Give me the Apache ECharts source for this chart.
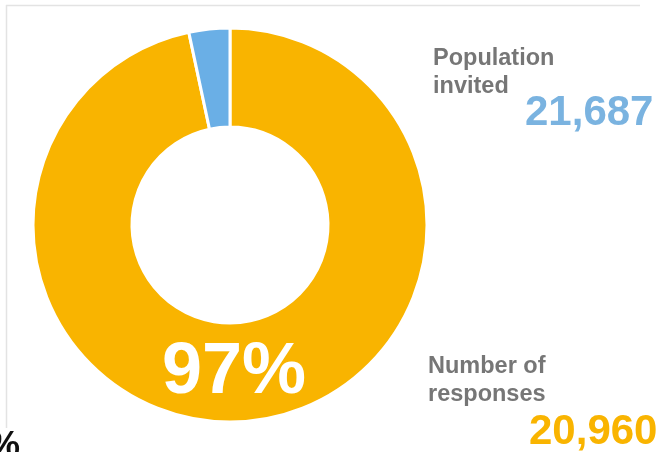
<!DOCTYPE html>
<html><head><meta charset="utf-8">
<script src="https://cdn.jsdelivr.net/npm/echarts@6/dist/echarts.min.js"></script>
<style>html,body{margin:0;padding:0;background:#fff}#c{width:659px;height:452px}</style>
</head><body><div id="c"></div>
<script>
const categories = ['Number of responses', 'Not responded'];
const values = [20960, 727];
const invited = 21687;
const responded = 20960;
const pctLabel = '97%';
const colors = ['#F9B400', '#6AAFE6'];

const chart = echarts.init(document.getElementById('c'));
const fam = 'Liberation Sans, Arial, sans-serif';
chart.setOption({
  animation: false,
  backgroundColor: '#fff',
  series: [{
    type: 'pie',
    center: [230, 225],
    radius: [98, 197],
    startAngle: 90,
    clockwise: true,
    label: {show: false},
    labelLine: {show: false},
    itemStyle: {borderColor: '#fff', borderWidth: 3},
    data: categories.map((c, i) => ({name: c, value: values[i], itemStyle: {color: colors[i]}}))
  }],
  graphic: [
    {type: 'line', z: 50, shape: {x1: 6, y1: 5.5, x2: 640, y2: 5.5}, style: {stroke: '#e3e3e3', lineWidth: 1.5}},
    {type: 'line', z: 50, shape: {x1: 6.5, y1: 5, x2: 6.5, y2: 428}, style: {stroke: '#e3e3e3', lineWidth: 1.5}},
    {type: 'text', z: 100, left: 433, top: 45, style: {text: 'Population\ninvited', font: 'bold 23.5px ' + fam, fill: '#767676', lineHeight: 28}},
    {type: 'text', z: 100, left: 525, top: 92, style: {text: invited.toLocaleString('en-US'), font: 'bold 42px ' + fam, fill: '#7AB3E0'}},
    {type: 'text', z: 100, left: 428, top: 353, style: {text: 'Number of\nresponses', font: 'bold 23.5px ' + fam, fill: '#767676', lineHeight: 28}},
    {type: 'text', z: 100, left: 529, top: 411, style: {text: responded.toLocaleString('en-US'), font: 'bold 42px ' + fam, fill: '#F9B400'}},
    {type: 'text', z: 100, x: 234, y: 373, style: {text: pctLabel, font: 'bold 72px ' + fam, fill: '#fff', align: 'center', verticalAlign: 'middle'}},
    {type: 'text', z: 100, left: -12, top: 429, style: {text: '%', font: 'bold 36px ' + fam, fill: '#111'}}
  ]
});
</script></body></html>
